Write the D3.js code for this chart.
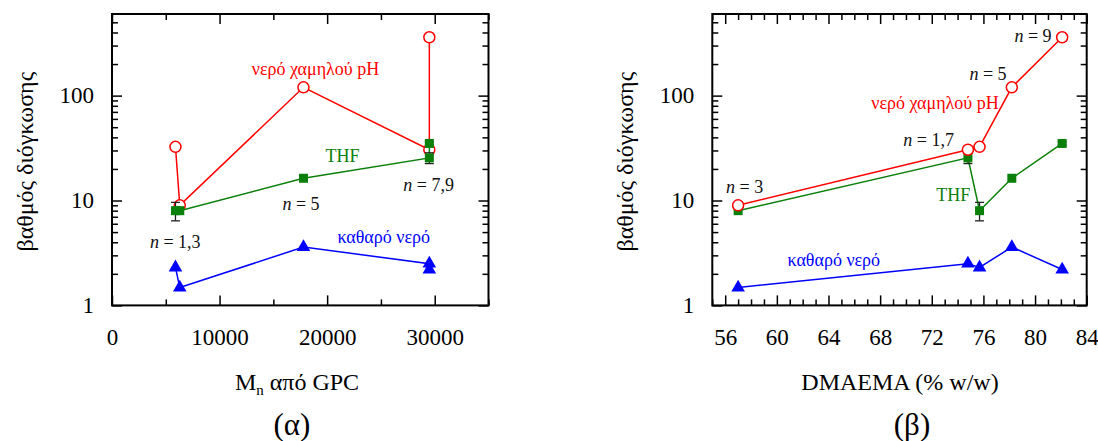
<!DOCTYPE html>
<html>
<head>
<meta charset="utf-8">
<script src="https://cdn.jsdelivr.net/npm/d3@7"></script>
<style>
  body { margin: 0; background: #fff; }
  svg { display: block; }
  svg text { font-family: "Liberation Serif", "Times New Roman", Times, "DejaVu Serif", serif !important; }
</style>
</head>
<body>
<svg id="chart" width="1098" height="441"></svg>
<script>
// Samples (degree of polymerisation labels n)
const samples = ["1", "3", "5", "7", "9"];
// Number-average molar mass from GPC
const mnGPC = [5900, 6300, 17800, 29500, 29500];
// DMAEMA content (% w/w)
const dmaema = [75.7, 57.0, 78.2, 74.8, 82.1];
// Degree of swelling in each solvent
const swellLowPH = [32.5, 9, 120, 30.5, 360];
const swellTHF = [8, 8, 16.3, 25.5, 35];
const errTHF = [1.6, 0, 0, 3, 1.2];
const swellWater = [2.3, 1.48, 3.6, 2.5, 2.2];

// Axis ticks
const yMajorTicks = [1, 10, 100];
const mnMajorTicks = [0, 10000, 20000, 30000];
const mnMinorTicks = [5000, 15000, 25000, 35000];
const dmaemaMajorTicks = [56, 60, 64, 68, 72, 76, 80, 84];
const dmaemaMinorTicks = d3.range(55, 85).filter(v => (v - 56) % 4 !== 0);

const RED = "#ff0000", GREEN = "#0a800a", BLUE = "#0000ff";
const SERIF = "'Liberation Serif', 'Times New Roman', Times, 'DejaVu Serif', serif";

const svg = d3.select("#chart").attr("font-family", SERIF);

const yMinorTicks = [];
[1, 10, 100].forEach(d => { for (let k = 2; k <= 9; k++) if (d * k < 600) yMinorTicks.push(d * k); });

function drawPanel(cfg) {
  const { left, right, top, bottom } = cfg;
  const x = d3.scaleLinear().domain(cfg.xDomain).range([left, right]);
  const y = d3.scaleLog().domain([1, 600]).range([bottom, top]);
  const g = svg.append("g");
  const xs = cfg.xValues;

  // ---- axes (ticks pointing inward on all four sides) ----
  const styleAxis = (sel) => {
    sel.attr("font-family", SERIF);
    sel.select(".domain").remove();
    sel.selectAll(".tick line").attr("stroke", "#000").attr("stroke-width", 1.5);
    sel.selectAll(".tick text").attr("fill", "#000").attr("font-size", 23);
  };
  g.append("g").attr("transform", `translate(0,${bottom})`)
    .call(d3.axisBottom(x).tickValues(cfg.xMajor).tickSize(-10).tickPadding(23.5).tickFormat(d3.format("d")))
    .call(styleAxis);
  g.append("g").attr("transform", `translate(0,${bottom})`)
    .call(d3.axisBottom(x).tickValues(cfg.xMinor).tickSize(-6).tickFormat(""))
    .call(styleAxis);
  g.append("g").attr("transform", `translate(0,${top})`)
    .call(d3.axisTop(x).tickValues(cfg.xMajor).tickSize(-10).tickFormat(""))
    .call(styleAxis);
  g.append("g").attr("transform", `translate(0,${top})`)
    .call(d3.axisTop(x).tickValues(cfg.xMinor).tickSize(-6).tickFormat(""))
    .call(styleAxis);

  g.append("g").attr("transform", `translate(${left},0)`)
    .call(d3.axisLeft(y).tickValues(yMajorTicks).tickSize(-10).tickPadding(18).tickFormat(d3.format("d")))
    .call(styleAxis);
  g.append("g").attr("transform", `translate(${left},0)`)
    .call(d3.axisLeft(y).tickValues(yMinorTicks).tickSize(-6).tickFormat(""))
    .call(styleAxis);
  g.append("g").attr("transform", `translate(${right},0)`)
    .call(d3.axisRight(y).tickValues(yMajorTicks).tickSize(-10).tickFormat(""))
    .call(styleAxis);
  g.append("g").attr("transform", `translate(${right},0)`)
    .call(d3.axisRight(y).tickValues(yMinorTicks).tickSize(-6).tickFormat(""))
    .call(styleAxis);

  // frame
  g.append("rect").attr("x", left).attr("y", top)
    .attr("width", right - left).attr("height", bottom - top)
    .attr("fill", "none").attr("stroke", "#000").attr("stroke-width", 2);

  // ---- data series ----
  const order = d3.range(samples.length).sort((a, b) => xs[a] - xs[b] || a - b);
  const line = (vals) => d3.line().x(i => x(xs[i])).y(i => y(vals[i]))(order);

  const series = {
    ph: () => {
      g.append("path").attr("d", line(swellLowPH)).attr("fill", "none")
        .attr("stroke", RED).attr("stroke-width", 1.5);
      g.append("g").selectAll("circle").data(order).join("circle")
        .attr("cx", i => x(xs[i])).attr("cy", i => y(swellLowPH[i])).attr("r", 5.5)
        .attr("fill", "#fff").attr("stroke", RED).attr("stroke-width", 1.5);
    },
    thf: () => {
      g.append("path").attr("d", line(swellTHF)).attr("fill", "none")
        .attr("stroke", GREEN).attr("stroke-width", 1.5);
      const eb = g.append("g").attr("stroke", "#222").attr("stroke-width", 1.3);
      order.filter(i => errTHF[i] > 0).forEach(i => {
        const cx = x(xs[i]), y1 = y(swellTHF[i] + errTHF[i]), y2 = y(swellTHF[i] - errTHF[i]);
        eb.append("line").attr("x1", cx).attr("x2", cx).attr("y1", y1).attr("y2", y2);
        eb.append("line").attr("x1", cx - 4.5).attr("x2", cx + 4.5).attr("y1", y1).attr("y2", y1);
        eb.append("line").attr("x1", cx - 4.5).attr("x2", cx + 4.5).attr("y1", y2).attr("y2", y2);
      });
      g.append("g").selectAll("path").data(order).join("path")
        .attr("d", d3.symbol(d3.symbolSquare, 81))
        .attr("transform", i => `translate(${x(xs[i])},${y(swellTHF[i])})`)
        .attr("fill", GREEN);
    },
    water: () => {
      g.append("path").attr("d", line(swellWater)).attr("fill", "none")
        .attr("stroke", BLUE).attr("stroke-width", 1.5);
      g.append("g").selectAll("path").data(order).join("path")
        .attr("d", d3.symbol(d3.symbolTriangle, 80))
        .attr("transform", i => `translate(${x(xs[i])},${y(swellWater[i])})`)
        .attr("fill", BLUE);
    }
  };
  cfg.drawOrder.forEach(k => series[k]());

  // ---- annotations ----
  cfg.notes.forEach(nt => {
    const t = g.append("text").attr("x", nt.x).attr("y", nt.y)
      .attr("text-anchor", "middle").attr("font-size", 18).attr("fill", nt.color || "#111");
    if (nt.n) {
      t.append("tspan").attr("font-style", "italic").text("n");
      t.append("tspan").text(" = " + nt.n);
    } else {
      t.text(nt.text);
    }
  });

  // ---- titles ----
  g.append("text")
    .attr("transform", `translate(${cfg.yTitleX},${(top + bottom) / 2 + 2}) rotate(-90)`)
    .attr("text-anchor", "middle").attr("dy", "0.35em")
    .attr("font-size", 24).attr("fill", "#000").text("βαθμός διόγκωσης");

  const xt = g.append("text").attr("x", cfg.xTitleX).attr("y", 390)
    .attr("text-anchor", "middle").attr("font-size", 24).attr("fill", "#000");
  cfg.xTitle(xt);

  g.append("text").attr("x", cfg.tagX).attr("y", 435).attr("text-anchor", "middle")
    .attr("font-size", 31).attr("fill", "#000").text(cfg.tag);
}

// (α) swelling vs Mn
drawPanel({
  left: 112, right: 488.5, top: 14, bottom: 305.4,
  xDomain: [0, 35000], xValues: mnGPC,
  xMajor: mnMajorTicks, xMinor: mnMinorTicks,
  drawOrder: ["ph", "thf", "water"],
  yTitleX: 25, xTitleX: 297, tagX: 292, tag: "(α)",
  xTitle: t => {
    t.append("tspan").text("M");
    t.append("tspan").attr("dy", 5).attr("font-size", 15).text("n");
    t.append("tspan").attr("dy", -5).text(" από GPC");
  },
  notes: [
    { x: 315.5, y: 75, text: "νερό χαμηλού pH", color: RED },
    { x: 342.5, y: 162, text: "THF", color: GREEN },
    { x: 428.7, y: 191, n: "7,9" },
    { x: 301, y: 209.5, n: "5" },
    { x: 175.3, y: 248, n: "1,3" },
    { x: 383.7, y: 243, text: "καθαρό νερό", color: BLUE }
  ]
});

// (β) swelling vs DMAEMA content
drawPanel({
  left: 712.3, right: 1086.7, top: 14, bottom: 305.4,
  xDomain: [55, 84], xValues: dmaema,
  xMajor: dmaemaMajorTicks, xMinor: dmaemaMinorTicks,
  drawOrder: ["thf", "water", "ph"],
  yTitleX: 625, xTitleX: 900, tagX: 912, tag: "(β)",
  xTitle: t => t.text("DMAEMA (% w/w)"),
  notes: [
    { x: 744.7, y: 193, n: "3" },
    { x: 928.7, y: 146, n: "1,7" },
    { x: 988, y: 79.5, n: "5" },
    { x: 1033, y: 42, n: "9" },
    { x: 935, y: 108.5, text: "νερό χαμηλού pH", color: RED },
    { x: 953.3, y: 200.7, text: "THF", color: GREEN },
    { x: 833.8, y: 266, text: "καθαρό νερό", color: BLUE }
  ]
});
</script>
</body>
</html>
